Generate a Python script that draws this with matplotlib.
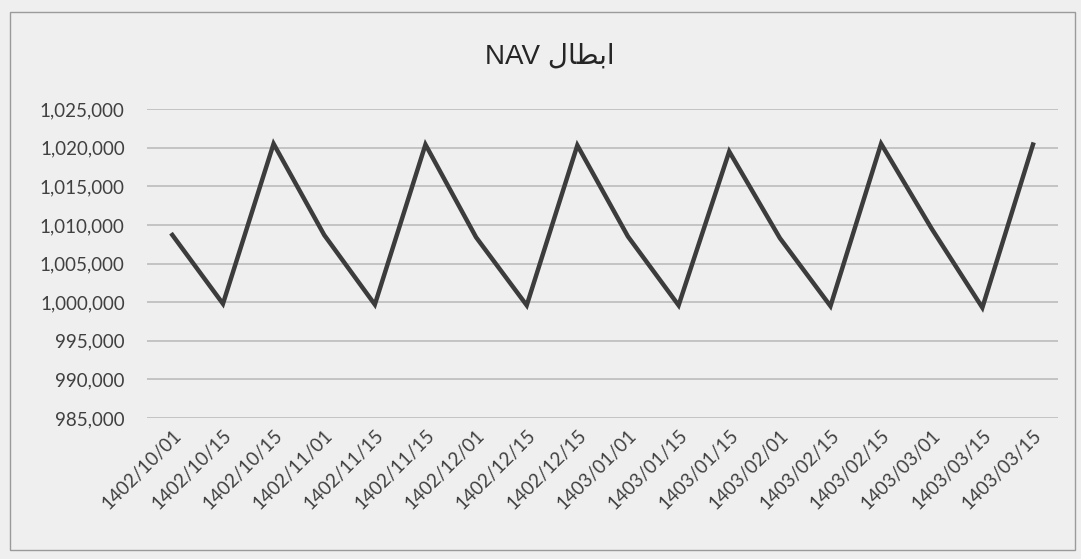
import matplotlib.pyplot as plt
from matplotlib.patches import Rectangle
from matplotlib.ticker import FuncFormatter

# داده‌ها
dates = ['1402/10/01', '1402/10/15', '1402/10/15', '1402/11/01', '1402/11/15',
         '1402/11/15', '1402/12/01', '1402/12/15', '1402/12/15', '1403/01/01',
         '1403/01/15', '1403/01/15', '1403/02/01', '1403/02/15', '1403/02/15',
         '1403/03/01', '1403/03/15', '1403/03/15']
nav = [1008700, 999800, 1020500, 1008700, 999700, 1020400, 1008400, 999600, 1020300,
       1008500, 999600, 1019500, 1008300, 999500, 1020500, 1009500, 999300, 1020400]
y_ticks = [985000, 990000, 995000, 1000000, 1005000, 1010000, 1015000, 1020000, 1025000]

# matplotlib حروف عربی را شکل‌دهی نمی‌کند، پس شکل‌های نمایشی به ترتیب دیداری
title_fa = '\uFEDD\uFE8E\uFEC4\uFE91\uFE8D'  # ابطال
title = 'NAV ' + title_fa

bg = '#efeff0'
text_col = '#404040'
grid_col = '#b8b8b8'

fig = plt.figure(figsize=(10.81, 5.59), dpi=100, facecolor=bg)
ax = fig.add_axes([0.136, 0.252, 0.843, 0.553], facecolor=bg)

x = list(range(len(dates)))
ax.plot(x, nav, color='#3c3c3c', lw=3.2, solid_joinstyle='miter', zorder=3)

ax.set_xlim(-0.5, len(dates) - 0.5)
ax.set_ylim(y_ticks[0], y_ticks[-1])
ax.set_yticks(y_ticks)
ax.yaxis.set_major_formatter(FuncFormatter(lambda v, p: f'{int(v):,}'))
ax.set_xticks(x)
ax.set_xticklabels(dates, rotation=45, ha='right', rotation_mode='anchor')

ax.grid(axis='y', color=grid_col, lw=1.1)
ax.set_axisbelow(True)
for s in ax.spines.values():
    s.set_visible(False)
ax.tick_params(length=0, colors=text_col, labelsize=13.5)
ax.tick_params(axis='y', pad=16)
ax.tick_params(axis='x', pad=6)
for lab in ax.get_xticklabels() + ax.get_yticklabels():
    lab.set_family(['Lato', 'DejaVu Sans'])

fig.text(0.509, 0.898, title, ha='center', va='center', fontsize=20,
         color='#262626', family=['Liberation Sans', 'DejaVu Sans'])

# کادر دور نمودار
fig.patches.append(Rectangle((0.009, 0.016), 0.985, 0.963, transform=fig.transFigure,
                             fill=False, edgecolor='#9a9a9a', lw=1))

fig.savefig('out.png', dpi=100, facecolor=bg)
